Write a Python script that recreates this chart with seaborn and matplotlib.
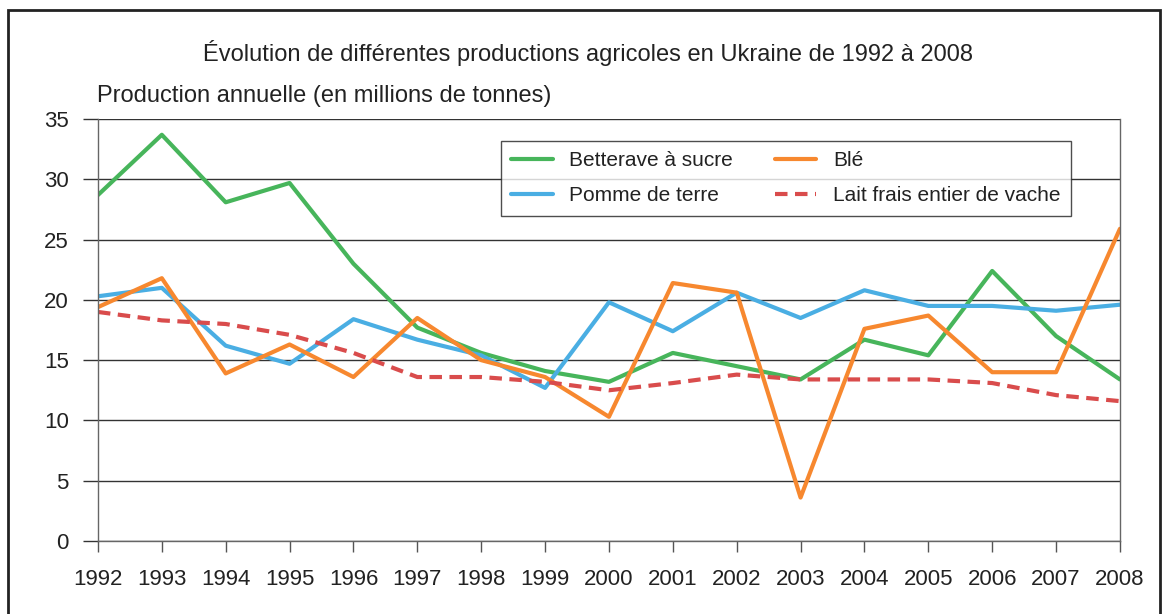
import matplotlib
matplotlib.use('Agg')
import matplotlib.pyplot as plt
import seaborn as sns
import pandas as pd
from matplotlib.patches import Rectangle

# Data (millions de tonnes)
years = list(range(1992, 2009))
betterave = [28.7, 33.7, 28.1, 29.7, 23.0, 17.7, 15.6, 14.1, 13.2, 15.6, 14.5, 13.4, 16.7, 15.4, 22.4, 17.0, 13.4]
ble = [19.4, 21.8, 13.9, 16.3, 13.6, 18.5, 15.0, 13.6, 10.3, 21.4, 20.6, 3.6, 17.6, 18.7, 14.0, 14.0, 25.9]
pomme = [20.3, 21.0, 16.2, 14.7, 18.4, 16.7, 15.4, 12.7, 19.8, 17.4, 20.6, 18.5, 20.8, 19.5, 19.5, 19.1, 19.6]
lait = [19.0, 18.3, 18.0, 17.1, 15.6, 13.6, 13.6, 13.2, 12.5, 13.1, 13.8, 13.4, 13.4, 13.4, 13.1, 12.1, 11.6]

series_names = ['Betterave à sucre', 'Pomme de terre', 'Blé', 'Lait frais entier de vache']
series_values = [betterave, pomme, ble, lait]
colors = ['#47b55b', '#4aaee3', '#f7882f', '#d94c4c']
dashes = [False, False, False, True]

sns.set_style('white')
plt.rcParams['font.family'] = ['Liberation Sans', 'DejaVu Sans']

fig = plt.figure(figsize=(11.66, 6.14), dpi=100)
ax = fig.add_axes([0.084, 0.119, 0.8765, 0.687])

for name, vals, col, dashed in zip(series_names, series_values, colors, dashes):
    df = pd.DataFrame({'year': years, 'value': vals})
    sns.lineplot(data=df, x='year', y='value', ax=ax, color=col, linewidth=3,
                 label=name, linestyle=(0, (3, 1.8)) if dashed else '-')

ax.set_xlim(1992, 2008)
ax.set_ylim(0, 35)
ax.set_xticks(years)
ax.set_yticks(range(0, 36, 5))
ax.tick_params(bottom=True, left=True)
ax.tick_params(axis='x', labelsize=16, direction='out', length=8, width=1,
               color='#555555', pad=12, labelcolor='#222222')
ax.tick_params(axis='y', labelsize=16, direction='out', length=11, width=1,
               color='#333333', pad=10, labelcolor='#222222')
ax.set_xlabel('')
ax.set_ylabel('')

# horizontal grid lines
ax.yaxis.grid(True, color='#333333', linewidth=1)
ax.xaxis.grid(False)
ax.set_axisbelow(True)
for side in ['left', 'right', 'bottom']:
    ax.spines[side].set_visible(True)
    ax.spines[side].set_color('#666666')
    ax.spines[side].set_linewidth(1)
ax.spines['top'].set_visible(False)

leg = ax.legend(ncol=2, loc='upper left', bbox_to_anchor=(0.394, 0.948),
                fontsize=15, frameon=True, fancybox=False, handlelength=2,
                columnspacing=2.0, handletextpad=0.8, borderpad=0.5,
                labelspacing=0.75, borderaxespad=0)
leg.get_frame().set_edgecolor('#222222')
leg.get_frame().set_linewidth(1)
for t in leg.get_texts():
    t.set_color('#222222')

fig.text(0.504, 0.914, 'Évolution de différentes productions agricoles en Ukraine de 1992 à 2008',
         ha='center', va='center', fontsize=17, color='#222222')
fig.text(0.083, 0.844, 'Production annuelle (en millions de tonnes)',
         ha='left', va='center', fontsize=17, color='#222222')

# outer frame
fig.patches.append(Rectangle((0.007, -0.05), 0.988, 1.034, transform=fig.transFigure,
                             fill=False, edgecolor='#222222', linewidth=2))

plt.savefig('out.png', dpi=100)
plt.close()
